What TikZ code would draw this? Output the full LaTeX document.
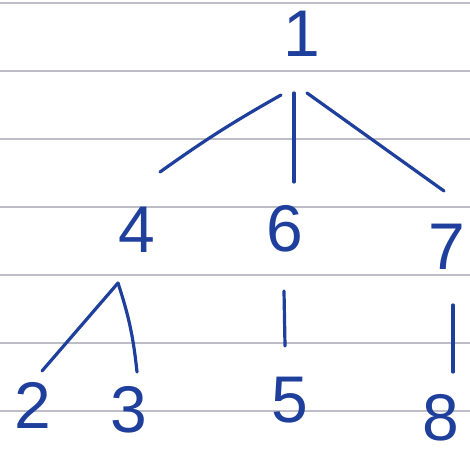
\documentclass[tikz,border=0pt]{standalone}
\usepackage{fontspec}
\setmainfont{Liberation Sans}
\usepackage{tikz}
\usetikzlibrary{positioning, calc}
\definecolor{inkblue}{HTML}{1F3F9C}
\definecolor{ruleline}{HTML}{BDBDC8}
\tikzset{
	vertex/.style={inner sep=0pt, text=inkblue, font=\fontsize{66}{66}\selectfont},
	edge/.style={draw=inkblue, line width=3.2pt, line cap=round},
	ruling/.style={draw=ruleline, line width=1.8pt}
}
\begin{document}
\begin{tikzpicture}[x=1pt, y=-1pt]
		\useasboundingbox (0,0) rectangle (470,462);
		% Lineas del papel
		\foreach \y in {3,71,139,207,275,343,411}
			\draw [ruling] (0,\y) -- (470,\y);
		
		% Nodos
		\node (n1) [vertex] at (302,34) {1};
		\node (n4) [vertex] at (137,230) {4};
		\node (n6) [vertex] at (285,229) {6};
		\node (n7) [vertex] at (447,247) {7};
		\node (n2) [vertex] at (33,405) {2};
		\node (n3) [vertex] at (129,410) {3};
		\node (n5) [vertex] at (290,400) {5};
		\node (n8) [vertex] at (441,418) {8};
		
		% Aristas
		\draw [edge] ([shift={(-21,61)}]n1.center) to[bend right=3] ([shift={(23,-58)}]n4.center);
		\draw [edge] ([shift={(-8,59)}]n1.center) -- ([shift={(9,-47)}]n6.center);
		\draw [edge] ([shift={(5,59)}]n1.center) -- ([shift={(-3,-56)}]n7.center);
		\draw [edge] ([shift={(-19,53)}]n4.center) -- ([shift={(9,-34)}]n2.center);
		\draw [edge] ([shift={(-19,53)}]n4.center) to[bend left=6] ([shift={(8,-38)}]n3.center);
		\draw [edge] ([shift={(-1,62)}]n6.center) -- ([shift={(-5,-54)}]n5.center);
		\draw [edge] ([shift={(6,58)}]n7.center) -- ([shift={(12,-46)}]n8.center);
	\end{tikzpicture}
\end{document}
